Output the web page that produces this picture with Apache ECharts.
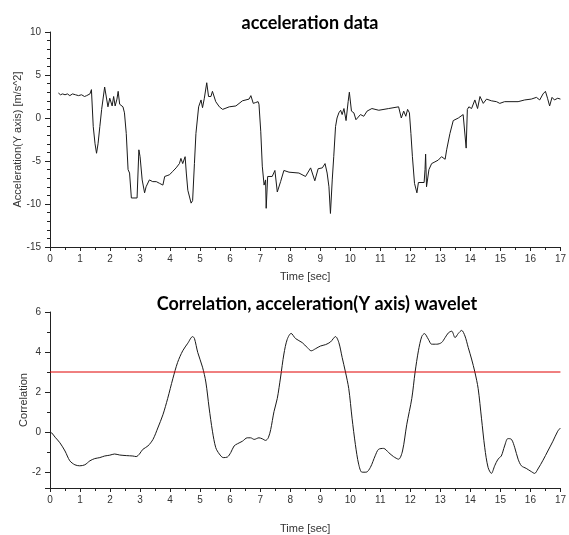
<!DOCTYPE html>
<html>
<head>
<meta charset="utf-8">
<script src="https://cdn.jsdelivr.net/npm/echarts@6/dist/echarts.min.js"></script>
<style>
  html, body { margin: 0; padding: 0; background: #fff; }
  #main { width: 569px; height: 535px; }
</style>
</head>
<body>
<div id="main"></div>
<script>
// top plot: acceleration samples
var accTime = [0.28, 0.35, 0.42, 0.5, 0.58, 0.66, 0.75, 0.85, 0.95, 1.05, 1.15, 1.22, 1.28, 1.33, 1.38,
  1.44, 1.5, 1.55, 1.6, 1.66, 1.72, 1.82, 1.88, 1.93, 1.99, 2.07, 2.12, 2.17, 2.23, 2.27, 2.32, 2.38,
  2.43, 2.48, 2.54, 2.6, 2.65, 2.71, 2.9, 2.96, 3.0, 3.07, 3.15, 3.2, 3.31, 3.42, 3.54, 3.65, 3.76,
  3.82, 3.9, 3.98, 4.09, 4.2, 4.31, 4.36, 4.42, 4.5, 4.54, 4.59, 4.7, 4.75, 4.81, 4.86, 4.95, 5.03,
  5.08, 5.14, 5.22, 5.28, 5.36, 5.41, 5.52, 5.64, 5.75, 5.97, 6.19, 6.41, 6.63, 6.69, 6.77, 6.85,
  6.93, 6.96, 7.02, 7.07, 7.13, 7.18, 7.2, 7.25, 7.4, 7.49, 7.57, 7.68, 7.79, 7.96, 8.29, 8.51, 8.68,
  8.82, 8.93, 9.07, 9.16, 9.23, 9.29, 9.34, 9.4, 9.45, 9.51, 9.56, 9.62, 9.68, 9.73, 9.79, 9.86,
  9.93, 9.97, 10.04, 10.12, 10.19, 10.34, 10.45, 10.56, 10.72, 10.95, 11.28, 11.61, 11.7, 11.78,
  11.85, 11.91, 11.97, 12.02, 12.07, 12.14, 12.22, 12.27, 12.46, 12.49, 12.51, 12.54, 12.58, 12.62,
  12.71, 12.82, 12.93, 13.04, 13.16, 13.21, 13.32, 13.43, 13.6, 13.76, 13.82, 13.86, 13.9, 13.95,
  14.04, 14.15, 14.24, 14.32, 14.43, 14.54, 14.7, 14.87, 14.98, 15.14, 15.59, 15.81, 16.03, 16.2,
  16.31, 16.42, 16.5, 16.57, 16.64, 16.72, 16.8, 16.91, 17.0];
var accValue = [2.9, 2.7, 2.8, 2.7, 2.8, 2.6, 2.8, 2.7, 2.6, 2.7, 2.5, 2.6, 2.4, 2.8, 3.3,
  -1.0, -3.0, -4.1, -3.0, -1.0, 1.0, 3.6, 3.7, 1.3, 2.3, 1.4, 2.5, 1.4, 2.2, 3.1, 1.6, 1.8,
  1.3, 0.6, -1.8, -6.0, -6.4, -9.3, -9.3, -3.7, -4.5, -7.2, -8.7, -8.0, -7.2, -7.4, -7.4, -7.6, -7.8,
  -6.8, -6.7, -6.6, -6.2, -5.8, -5.3, -4.7, -5.3, -4.5, -6.4, -8.4, -9.9, -9.6, -5.3, -1.8, 1.3, 2.1,
  1.2, 2.3, 4.1, 2.5, 2.5, 3.1, 1.9, 1.3, 1.0, 1.3, 1.4, 2.0, 2.2, 2.6, 1.7, 1.8,
  1.9, 1.6, -1.6, -5.6, -7.8, -7.2, -10.5, -6.8, -6.8, -6.1, -8.6, -7.4, -6.1, -6.3, -6.4, -6.8, -5.8,
  -7.3, -5.9, -5.8, -5.3, -6.4, -8.0, -11.1, -7.2, -4.5, -1.0, 0, 0.6, 0.9, 0.4, 1.1, -0.3,
  1.9, 3.0, 0.8, 0.6, -0.2, 0.4, 0.2, 0.8, 1.1, 0.9, 1.1, 1.3, 0, 0.8,
  0.2, 1.0, 0.6, -1.8, -4.5, -7.6, -8.7, -7.5, -7.5, -6.0, -4.2, -8.0, -8.1, -6.0,
  -5.3, -5.1, -4.9, -4.5, -4.8, -3.7, -1.8, -0.3, 0, 0.4, 0.6, -3.5, 1.0, 1.3,
  1.1, 2.1, 1.1, 2.5, 1.7, 2.2, 2.0, 1.9, 1.7, 1.9, 1.9, 2.1, 2.2, 2.4,
  2.1, 2.8, 3.1, 2.3, 1.4, 2.4, 2.1, 2.3, 2.2];

// bottom plot: wavelet correlation
var corrTime = [0.0, 0.06, 0.17, 0.33, 0.5, 0.66, 0.83, 0.99, 1.16, 1.33, 1.49, 1.66, 1.82, 1.99,
  2.15, 2.32, 2.54, 2.76, 2.87, 2.98, 3.09, 3.26, 3.43, 3.59, 3.76, 3.92, 4.09, 4.25, 4.42, 4.59,
  4.75, 4.81, 4.92, 5.08, 5.19, 5.3, 5.41, 5.52, 5.64, 5.77, 5.91, 6.02, 6.13, 6.24, 6.41, 6.57,
  6.68, 6.8, 6.96, 7.07, 7.18, 7.27, 7.35, 7.46, 7.57, 7.68, 7.79, 7.9, 8.03, 8.18, 8.4, 8.57,
  8.7, 8.85, 9.01, 9.18, 9.34, 9.51, 9.62, 9.73, 9.84, 9.95, 10.06, 10.17, 10.28, 10.39, 10.53,
  10.67, 10.83, 10.94, 11.11, 11.28, 11.44, 11.61, 11.74, 11.88, 12.05, 12.16, 12.27, 12.38,
  12.47, 12.6, 12.71, 12.88, 13.04, 13.16, 13.27, 13.38, 13.49, 13.6, 13.71, 13.82, 13.93, 14.04,
  14.15, 14.26, 14.37, 14.48, 14.59, 14.7, 14.81, 14.92, 15.03, 15.14, 15.25, 15.37, 15.48, 15.59,
  15.7, 15.86, 16.03, 16.14, 16.25, 16.42, 16.58, 16.75, 16.91, 17.0];
var corrValue = [0.0, -0.05, -0.26, -0.54, -0.95, -1.44, -1.64, -1.69, -1.64, -1.44, -1.33, -1.28, -1.2, -1.16,
  -1.1, -1.15, -1.18, -1.2, -1.23, -1.1, -0.87, -0.7, -0.37, 0.2, 0.86, 1.68, 2.66, 3.48, 4.06, 4.44,
  4.77, 4.68, 3.98, 3.24, 2.5, 1.2, 0.04, -0.78, -1.1, -1.28, -1.25, -1.03, -0.7, -0.59, -0.46, -0.29,
  -0.29, -0.37, -0.29, -0.34, -0.42, -0.29, 0.12, 1.02, 1.68, 2.75, 3.9, 4.63, 4.93, 4.67, 4.47, 4.22,
  4.06, 4.17, 4.3, 4.37, 4.5, 4.77, 4.47, 3.73, 3.0, 2.17, 0.69, -0.62, -1.61, -2.01, -2.01,
  -1.77, -1.19, -0.87, -0.82, -1.03, -1.23, -1.36, -0.95, 0.36, 1.68, 3.0, 4.06, 4.77,
  4.92, 4.64, 4.39, 4.39, 4.47, 4.72, 4.96, 5.04, 4.72, 4.93, 5.08, 4.8, 4.22, 3.65,
  3.0, 2.17, 0.69, -0.79, -1.77, -2.07, -1.69, -1.36, -1.2, -0.7, -0.33, -0.37, -0.79, -1.36,
  -1.69, -1.82, -1.98, -2.07, -1.85, -1.41, -0.95, -0.46, 0.04, 0.2];

// threshold line
var thresholdTime = [0, 17];
var thresholdValue = [3, 3];

function pairs(xs, ys) {
  return xs.map(function (x, i) { return [x, ys[i]]; });
}

var axisColor = '#222';
var labelFont = { fontFamily: 'Liberation Sans', fontSize: 10, color: '#333' };

function timeAxis(idx, gap) {
  return {
    type: 'value', gridIndex: idx, min: 0, max: 17, interval: 1,
    name: 'Time [sec]', nameLocation: 'middle', nameGap: gap, nameMoveOverlap: false,
    nameTextStyle: { fontFamily: 'Liberation Sans', fontSize: 11, color: '#333' },
    axisLine: { onZero: false, lineStyle: { color: axisColor } },
    axisTick: { length: 4, lineStyle: { color: axisColor } },
    minorTick: { show: true, splitNumber: 2, length: 3, lineStyle: { color: axisColor } },
    axisLabel: Object.assign({ margin: 7 }, labelFont),
    splitLine: { show: false }
  };
}

var myChart = echarts.init(document.getElementById('main'));

myChart.setOption({
  animation: false,
  backgroundColor: '#fff',
  title: [
    {
      text: 'acceleration data', left: 305, top: 9, textAlign: 'center',
      textStyle: { fontFamily: 'Lato', fontWeight: 'bold', fontSize: 18, color: '#000' }
    },
    {
      text: 'Correlation, acceleration(Y axis) wavelet', left: 312, top: 290, textAlign: 'center',
      textStyle: { fontFamily: 'Lato', fontWeight: 'bold', fontSize: 18, color: '#000' }
    }
  ],
  grid: [
    { left: 50, right: 6, top: 32, height: 215 },
    { left: 50, right: 6, top: 312, height: 179 }
  ],
  xAxis: [timeAxis(0, 24), timeAxis(1, 35)],
  yAxis: [
    {
      type: 'value', gridIndex: 0, min: -15, max: 10, interval: 5,
      name: 'Acceleration(Y axis) [m/s^2]', nameLocation: 'middle', nameGap: 27, nameMoveOverlap: false,
      nameTextStyle: { fontFamily: 'Liberation Sans', fontSize: 11, color: '#333' },
      axisLine: { show: true, onZero: false, lineStyle: { color: axisColor } },
      axisTick: { show: true, length: 5, lineStyle: { color: axisColor } },
      minorTick: { show: true, splitNumber: 5, length: 3, lineStyle: { color: axisColor } },
      axisLabel: Object.assign({ margin: 9 }, labelFont),
      splitLine: { show: false }
    },
    {
      type: 'value', gridIndex: 1, min: -2.8, max: 6,
      name: 'Correlation', nameLocation: 'middle', nameGap: 21, nameMoveOverlap: false,
      nameTextStyle: { fontFamily: 'Liberation Sans', fontSize: 11, color: '#333' },
      axisLine: { show: true, onZero: false, lineStyle: { color: axisColor } },
      axisTick: { show: true, length: 5, lineStyle: { color: axisColor } },
      minorTick: { show: true, splitNumber: 2, length: 3, lineStyle: { color: axisColor } },
      axisLabel: Object.assign({
        margin: 9,
        formatter: function (v) { return v % 2 === 0 ? String(v) : ''; }
      }, labelFont),
      splitLine: { show: false }
    }
  ],
  series: [
    {
      type: 'line', xAxisIndex: 0, yAxisIndex: 0, showSymbol: false,
      data: pairs(accTime, accValue),
      lineStyle: { color: '#1a1a1a', width: 1 }
    },
    {
      type: 'line', xAxisIndex: 1, yAxisIndex: 1, showSymbol: false, smooth: 0.3,
      data: pairs(corrTime, corrValue),
      lineStyle: { color: '#1a1a1a', width: 1 }
    },
    {
      type: 'line', xAxisIndex: 1, yAxisIndex: 1, showSymbol: false,
      data: pairs(thresholdTime, thresholdValue),
      lineStyle: { color: '#e00000', width: 1 }
    }
  ]
});
</script>
</body>
</html>
